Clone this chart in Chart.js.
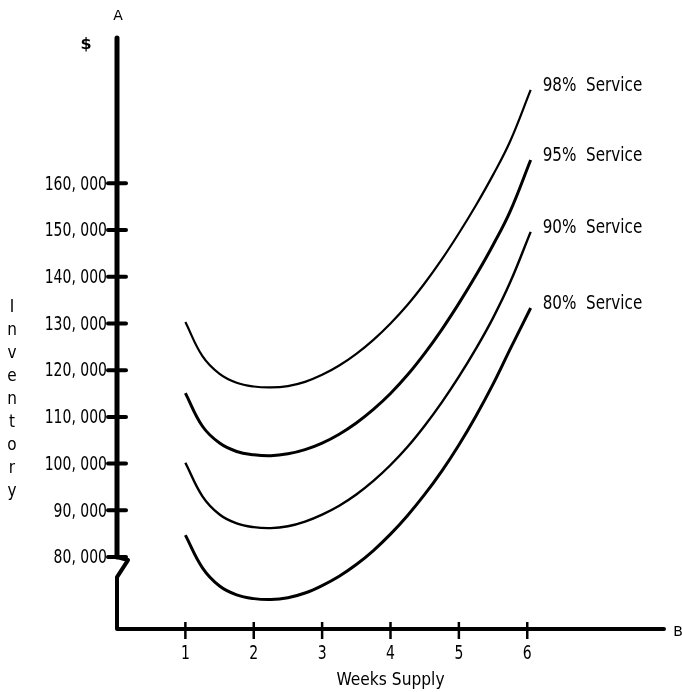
<!DOCTYPE html>
<html>
<head>
<meta charset="utf-8">
<script src="https://cdn.jsdelivr.net/npm/chart.js@4.4.0/dist/chart.umd.min.js"></script>
<style>
  body { margin: 0; background: #fff; }
</style>
</head>
<body>
<canvas id="inventory_chart" width="682" height="692"></canvas>
<script>
// values
const weeks = [1, 1.25, 1.5, 1.75, 2, 2.25, 2.5, 2.75, 3, 3.25, 3.5, 3.75, 4, 4.25, 4.5, 4.75, 5, 5.25, 5.5, 5.75, 6.05];
const service98 = [130300, 123000, 119200, 117300, 116500, 116300, 116600, 117500, 119000, 121000, 123500, 126500, 130000, 134000, 138600, 143700, 149300, 155300, 161800, 169000, 180000];
const service95 = [115100, 108000, 104400, 102600, 101900, 101700, 102100, 103000, 104400, 106300, 108700, 111600, 115000, 119000, 123600, 128700, 134300, 140300, 146800, 154000, 165000];
const service90 = [100200, 93000, 89100, 87200, 86400, 86200, 86600, 87600, 89100, 91000, 93400, 96300, 99700, 103600, 108100, 113100, 118600, 124600, 131200, 138800, 149600];
const service80 = [84700, 77700, 73800, 71900, 71100, 70900, 71300, 72300, 73900, 75900, 78400, 81400, 84900, 88900, 93400, 98400, 104000, 110200, 117000, 124500, 133300];
const seriesNames = ["98%  Service", "95%  Service", "90%  Service", "80%  Service"];
const yTicks = [80000, 90000, 100000, 110000, 120000, 130000, 140000, 150000, 160000];
const xTicks = [1, 2, 3, 4, 5, 6];
const xTitle = "Weeks Supply";
const yTitle = "Inventory";

const sans = "'DejaVu Sans', sans-serif";

function points(vals) {
    return weeks.map(function (w, i) { return {x: w, y: vals[i]}; });
}

// the scan uses a condensed face, so squeeze the text sideways
function squeezeText(ctx, text, x, y, align, sx) {
    ctx.save();
    ctx.translate(x, y);
    ctx.scale(sx, 1);
    ctx.textAlign = align;
    ctx.fillText(text, 0, 0);
    ctx.restore();
}

// hand drawn style axes: heavy lines, crossing ticks, break at 80,000
const axisPlugin = {
    id: "axisPlugin",
    afterDraw: function (chart) {
        const ctx = chart.ctx;
        const xs = chart.scales.x;
        const ys = chart.scales.y;
        const x0 = xs.getPixelForValue(0);
        const yTop = ys.getPixelForValue(ys.max);
        const yBot = ys.getPixelForValue(ys.min);
        const yBreak = ys.getPixelForValue(80000);
        const xEnd = xs.getPixelForValue(xs.max);

        ctx.save();
        ctx.strokeStyle = "#000";
        ctx.lineCap = "round";
        ctx.lineJoin = "round";

        // y axis down to the break
        ctx.lineWidth = 5;
        ctx.beginPath();
        ctx.moveTo(x0, yTop);
        ctx.lineTo(x0, yBreak);
        ctx.stroke();

        // break zig, then down and along the x axis
        ctx.lineWidth = 4;
        ctx.beginPath();
        ctx.moveTo(x0, yBreak);
        ctx.lineTo(x0 + 11, yBreak + 3);
        ctx.lineTo(x0, yBreak + 20);
        ctx.lineTo(x0, yBot);
        ctx.lineTo(xEnd, yBot);
        ctx.stroke();

        // y ticks
        ctx.lineWidth = 4;
        yTicks.forEach(function (v) {
            let py = ys.getPixelForValue(v);
            ctx.beginPath();
            ctx.moveTo(x0 - 9, py);
            ctx.lineTo(x0 + 9, py);
            ctx.stroke();
        });

        // x ticks
        ctx.lineWidth = 2.5;
        ctx.lineCap = "butt";
        xTicks.forEach(function (v) {
            let px = xs.getPixelForValue(v);
            ctx.beginPath();
            ctx.moveTo(px, yBot - 7);
            ctx.lineTo(px, yBot + 10);
            ctx.stroke();
        });

        ctx.fillStyle = "#000";
        ctx.textBaseline = "middle";

        // tick labels
        ctx.font = "20px " + sans;
        yTicks.forEach(function (v) {
            let label = v.toLocaleString("en-US").replace(",", ", ");
            squeezeText(ctx, label, x0 - 10, ys.getPixelForValue(v) + 1, "right", 0.7);
        });
        xTicks.forEach(function (v) {
            squeezeText(ctx, String(v), xs.getPixelForValue(v), yBot + 25, "center", 0.7);
        });

        // axis titles
        ctx.font = "18px " + sans;
        squeezeText(ctx, xTitle, (xs.left + xs.right) / 2, yBot + 51, "center", 0.86);
        ctx.textBaseline = "alphabetic";
        for (let i = 0; i < yTitle.length; i++) {
            squeezeText(ctx, yTitle[i], 12, 312 + i * 23, "center", 0.85);
        }

        ctx.textBaseline = "middle";
        ctx.font = "14px " + sans;
        ctx.textAlign = "center";
        ctx.fillText("A", x0 + 1, yTop - 22);
        ctx.fillText("B", xEnd + 14, yBot + 3);
        ctx.font = "bold 16px " + sans;
        ctx.fillText("$", x0 - 31, yTop + 7);

        // series labels at the end of each curve
        ctx.font = "20px " + sans;
        chart.data.datasets.forEach(function (ds, i) {
            let meta = chart.getDatasetMeta(i);
            let last = meta.data[meta.data.length - 1];
            squeezeText(ctx, ds.label, last.x + 12, last.y - 4, "left", 0.76);
        });
        ctx.restore();
    }
};

new Chart("inventory_chart", {
    type: "line",
    data: {
        datasets: [
            {label: seriesNames[0], data: points(service98), borderWidth: 2.2},
            {label: seriesNames[1], data: points(service95), borderWidth: 3},
            {label: seriesNames[2], data: points(service90), borderWidth: 2.4},
            {label: seriesNames[3], data: points(service80), borderWidth: 3}
        ].map(function (d) {
            d.borderColor = "#000";
            d.pointRadius = 0;
            d.tension = 0.4;
            d.fill = false;
            return d;
        })
    },
    options: {
        responsive: false,
        animation: false,
        layout: {padding: {top: 38, right: 18, left: 0, bottom: 0}},
        plugins: {
            legend: {display: false},
            tooltip: {enabled: false}
        },
        scales: {
            x: {
                type: "linear",
                min: 0,
                max: 8,
                grid: {display: false},
                border: {display: false},
                ticks: {display: false},
                afterFit: function (s) { s.height = 63; }
            },
            y: {
                type: "linear",
                min: 64600,
                max: 191100,
                grid: {display: false},
                border: {display: false},
                ticks: {display: false},
                afterFit: function (s) { s.width = 117; }
            }
        }
    },
    plugins: [axisPlugin]
});
</script>
</body>
</html>
